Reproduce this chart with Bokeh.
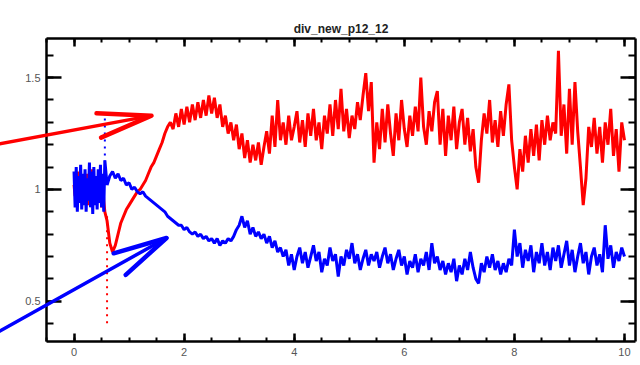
import numpy as np
from bokeh.plotting import figure
from bokeh.models import LinearAxis, SingleIntervalTicker, Range1d, CustomJSTickFormatter
from bokeh.embed import file_html
from bokeh.resources import INLINE

title_text = "div_new_p12_12"

# sample times
t_early = np.round(np.arange(29) * 0.02, 2)          # 0.00 .. 0.56
t_main = np.round(0.6 + 0.05 * np.arange(189), 2)    # 0.60 .. 10.00

blue_early = [1.08, 0.92, 1.10, 0.90, 1.06, 0.94, 1.11, 0.91, 1.07, 0.93,
              1.09, 0.90, 1.05, 0.95, 1.12, 0.92, 1.08, 0.89, 1.10, 0.93,
              1.06, 0.91, 1.09, 0.94, 1.11, 0.92, 1.07, 0.90, 1.13]
red_early = [1.02, 0.97, 1.05, 0.95, 1.08, 0.98, 1.03, 0.94, 1.06, 0.99,
             1.04, 0.96, 1.07, 0.93, 1.02, 0.97, 1.09, 0.95, 1.05, 0.98,
             1.03, 0.94, 1.06, 0.96, 1.08, 0.92, 1.04, 0.95, 0.90]

red_main = [
    0.86, 0.76, 0.72,
    0.75, 0.80, 0.85, 0.88, 0.91, 0.93,
    0.95, 0.97, 0.99, 1.00, 1.02, 1.04, 1.07, 1.10,
    1.12, 1.15, 1.18, 1.21, 1.25, 1.28, 1.30,
    1.27, 1.34, 1.28, 1.36, 1.29, 1.37, 1.30, 1.38, 1.31, 1.39, 1.32, 1.40, 1.33, 1.42, 1.34,
    1.41, 1.32, 1.38, 1.28, 1.33, 1.25, 1.30,
    1.22, 1.29, 1.18, 1.25, 1.14, 1.22, 1.12, 1.20, 1.13, 1.21, 1.11, 1.19,
    1.26, 1.16, 1.33, 1.19, 1.40, 1.22,
    1.30, 1.20, 1.33, 1.22, 1.28, 1.35, 1.21, 1.31, 1.19, 1.34,
    1.24, 1.36, 1.22, 1.30, 1.18, 1.33, 1.25, 1.38, 1.24, 1.40,
    1.27, 1.45, 1.26, 1.36, 1.23, 1.33, 1.27, 1.39, 1.31, 1.42,
    1.52, 1.35, 1.48, 1.12,
    1.30, 1.18, 1.36, 1.21, 1.38, 1.25, 1.15, 1.34, 1.22, 1.40, 1.27,
    1.19, 1.33, 1.24, 1.37, 1.26, 1.50, 1.28, 1.20, 1.35, 1.26, 1.39,
    1.44, 1.20, 1.36, 1.15, 1.33, 1.22, 1.37, 1.18, 1.30,
    1.36, 1.20, 1.32, 1.17, 1.27, 1.10, 1.03, 1.22, 1.34, 1.25,
    1.40, 1.21, 1.31, 1.19, 1.35, 1.24, 1.38, 1.47, 1.22, 1.10,
    1.00, 1.18, 1.08, 1.24, 1.12, 1.27, 1.15, 1.29, 1.13, 1.31,
    1.20, 1.33, 1.22, 1.30, 1.25,
    1.62, 1.24, 1.38, 1.16, 1.45, 1.20, 1.48,
    1.26, 1.10, 0.93, 1.05, 1.28,
    1.19, 1.32, 1.16, 1.28, 1.12, 1.30, 1.20, 1.36, 1.15, 1.27, 1.08, 1.30, 1.22,
]

blue_main = [
    1.02, 1.06, 1.08,
    1.05, 1.07, 1.04, 1.05, 1.02, 1.03,
    1.00, 1.01, 0.99, 0.98, 0.99, 0.97, 0.96, 0.95,
    0.94, 0.93, 0.92, 0.91, 0.90, 0.88, 0.87,
    0.86, 0.85, 0.84, 0.84, 0.82, 0.83, 0.81, 0.80, 0.81, 0.79, 0.80, 0.78, 0.79, 0.77, 0.78,
    0.76, 0.78, 0.75, 0.77, 0.76, 0.78, 0.77,
    0.79, 0.82, 0.84, 0.88, 0.83, 0.86, 0.80, 0.83, 0.79, 0.81, 0.78, 0.80,
    0.76, 0.79, 0.74, 0.77, 0.72, 0.74,
    0.70, 0.73, 0.66, 0.71, 0.64, 0.70, 0.74, 0.67, 0.72, 0.65,
    0.70, 0.75, 0.68, 0.72, 0.63, 0.69, 0.66, 0.74, 0.68, 0.71,
    0.61, 0.70, 0.66, 0.73, 0.69, 0.76, 0.67, 0.71, 0.64, 0.69,
    0.73, 0.66, 0.71, 0.68,
    0.72, 0.65, 0.70, 0.74, 0.67, 0.71, 0.64, 0.69, 0.73, 0.66, 0.70,
    0.62, 0.68, 0.65, 0.71, 0.63, 0.69, 0.66, 0.72, 0.64, 0.76, 0.67,
    0.70, 0.64, 0.68, 0.62, 0.67, 0.63, 0.69, 0.59, 0.66,
    0.62, 0.69, 0.64, 0.72, 0.65, 0.60, 0.58, 0.67, 0.63, 0.70,
    0.65, 0.71, 0.64, 0.68, 0.62, 0.67, 0.63, 0.69, 0.66, 0.82,
    0.70, 0.76, 0.65, 0.73, 0.68, 0.75, 0.63, 0.72, 0.67, 0.76,
    0.66, 0.72, 0.64, 0.74, 0.68,
    0.75, 0.65, 0.71, 0.77, 0.66, 0.73, 0.63,
    0.70, 0.76, 0.67, 0.72, 0.62,
    0.70, 0.74, 0.66, 0.71, 0.63, 0.84, 0.69, 0.75, 0.65, 0.72, 0.68, 0.74, 0.70,
]

# sparse (dotted) excursions
red_drop_x = [0.60, 0.60]
red_drop_y = [0.88, 0.38]
blue_spike_x = [0.56, 0.56]
blue_spike_y = [1.12, 1.34]

# annotation arrows: (x_start, y_start, x_tip, y_tip) in data units
red_arrow = (-1.354, 1.204, 1.407, 1.330)
blue_arrow = (-1.354, 0.366, 1.68, 0.783)

X0, X1 = -0.5, 10.2
Y0, Y1 = 0.32, 1.675
FW, FH = 589, 303

p = figure(frame_width=FW, frame_height=FH, output_backend="svg", toolbar_location=None,
           x_range=Range1d(X0, X1), y_range=Range1d(Y0, Y1),
           min_border_left=46, min_border_right=4, min_border_top=38, min_border_bottom=10,
           x_axis_type=None, y_axis_type=None)
p.outline_line_color = None
p.xgrid.visible = False
p.ygrid.visible = False

p.title.text = title_text
p.title.align = "center"
p.title.text_font = "Liberation Sans"
p.title.text_font_size = "12px"
p.title.text_font_style = "bold"
p.title.text_color = "#222222"
p.title.offset = 0
p.title.standoff = 6


def make_axis(labels, ticker, major_in, minor_in):
    ax = LinearAxis(ticker=ticker)
    ax.axis_line_width = 2.5
    ax.axis_line_color = "black"
    ax.major_tick_line_width = 2.5
    ax.minor_tick_line_width = 2
    ax.major_tick_in = major_in
    ax.major_tick_out = 0
    ax.minor_tick_in = minor_in
    ax.minor_tick_out = 0
    if labels:
        ax.major_label_text_font = "Liberation Sans"
        ax.major_label_text_font_size = "11px"
        ax.major_label_text_color = "#555555"
        ax.major_label_standoff = 6
    else:
        ax.formatter = CustomJSTickFormatter(code="return ''")
        ax.major_label_text_color = None
        ax.major_label_standoff = 0
    return ax


p.add_layout(make_axis(True, SingleIntervalTicker(interval=2, num_minor_ticks=4), 8, 4), "below")
p.add_layout(make_axis(False, SingleIntervalTicker(interval=2, num_minor_ticks=4), 8, 4), "above")
p.add_layout(make_axis(True, SingleIntervalTicker(interval=0.5, num_minor_ticks=5), 15, 7), "left")
p.add_layout(make_axis(False, SingleIntervalTicker(interval=0.5, num_minor_ticks=5), 15, 7), "right")

red_x = np.concatenate([t_early, t_main])
red_y = np.array(red_early + red_main)
blue_x = np.concatenate([t_early, t_main])
blue_y = np.array(blue_early + blue_main)

p.line(red_drop_x, red_drop_y, line_color="#ff0000", line_width=2, line_dash="2 5")
p.line(red_x, red_y, line_color="#ff0000", line_width=3)
p.line(blue_spike_x, blue_spike_y, line_color="#0000ff", line_width=2, line_dash="2 5")
p.line(blue_x, blue_y, line_color="#0000ff", line_width=3)

sx = FW / (X1 - X0)
sy = FH / (Y1 - Y0)


def add_arrow(spec, color):
    xs, ys, xt, yt = spec
    dx = (xs - xt) * sx
    dy = (ys - yt) * sy
    ang = np.arctan2(dy, dx)
    L = 55
    arms = []
    for da in (np.radians(13), -np.radians(13)):
        arms.append((xt + L * np.cos(ang + da) / sx, yt + L * np.sin(ang + da) / sy))
    # overlay level so the arrow may run past the frame, as in the reference
    p.line([xs, xt], [ys, yt], line_color=color, line_width=3.5, line_cap="round", level="overlay")
    p.line([arms[0][0], xt, arms[1][0]], [arms[0][1], yt, arms[1][1]], line_color=color,
           line_width=4.5, line_cap="round", line_join="round", level="overlay")


add_arrow(red_arrow, "#ff0000")
add_arrow(blue_arrow, "#0000ff")

open("out.html", "w").write(file_html(p, INLINE))
